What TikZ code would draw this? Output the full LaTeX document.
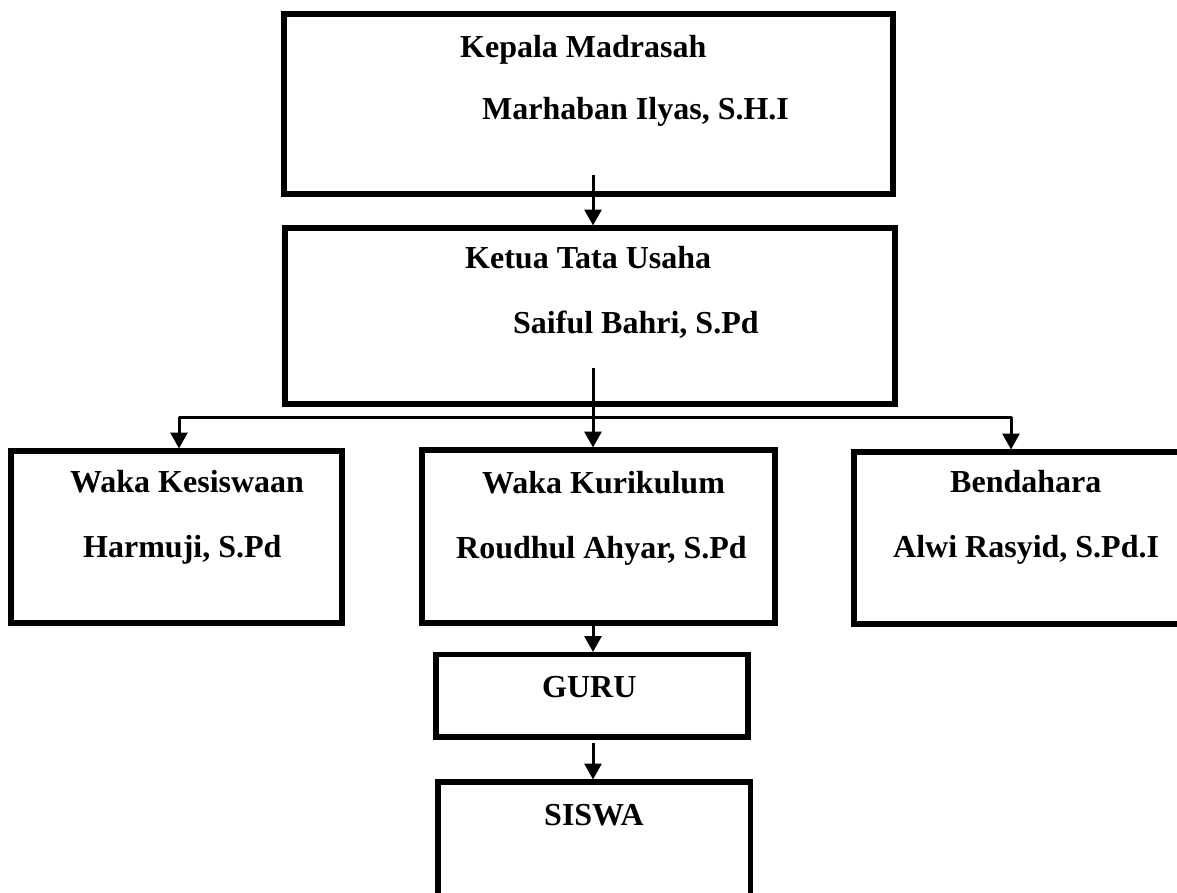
\documentclass[tikz,border=0pt]{standalone}
\usepackage{fontspec}
\setmainfont{Liberation Serif}
\usetikzlibrary{arrows.meta}
\begin{document}
\begin{tikzpicture}[x=1pt,y=1pt,
  box/.style={draw, line width=5.5pt, rectangle, inner sep=0pt, outer sep=0pt},
  lbl/.style={anchor=base west, inner sep=0pt, font=\fontsize{32}{38}\selectfont\bfseries},
  tip/.style={Triangle[width=17pt,length=16pt]},
  conn/.style={line width=3pt, -{Triangle[width=17pt,length=16pt]}, shorten >=2.5pt},
  branch/.style={line width=3pt, {Triangle[width=17pt,length=16pt]}-{Triangle[width=17pt,length=16pt]}, shorten <=2.5pt, shorten >=2.5pt, line join=round}]
\useasboundingbox (0,0) rectangle (1177,-892);
\fill[white] (0,0) rectangle (1177,-892);
\begin{scope}
\clip (0,0) rectangle (1177,-892);
% boxes
\node[box, minimum width=609pt, minimum height=180pt] (kep) at (588.5,-104) {};
\node[box, minimum width=610pt, minimum height=176pt] (ket) at (590,-316) {};
\node[box, minimum width=331pt, minimum height=172pt] (wkes) at (176.5,-537) {};
\node[box, minimum width=353pt, minimum height=173pt] (wkur) at (598.5,-536.5) {};
\node[box, minimum width=346pt, minimum height=172pt] (bend) at (1027,-538) {};
\node[box, minimum width=312pt, minimum height=82.5pt] (guru) at (592,-695.75) {};
\node[box, minimum width=312.5pt, minimum height=128pt] (siswa) at (594.25,-846) {};
% texts
\node[lbl] (t1) at (460,-57) {Kepala Madrasah};
\node[lbl] (t2) at (482,-119) {Marhaban Ilyas, S.H.I};
\node[lbl] (t3) at (465,-268) {Ketua Tata Usaha};
\node[lbl] (t4) at (513,-333) {Saiful Bahri, S.Pd};
\node[lbl] (t5) at (70,-492) {Waka Kesiswaan};
\node[lbl] (t6) at (83,-557) {Harmuji, S.Pd};
\node[lbl] (t7) at (482,-493) {Waka Kurikulum};
\node[lbl] (t8) at (456,-558) {Roudhul Ahyar, S.Pd};
\node[lbl] (t9) at (950,-492) {Bendahara};
\node[lbl] (t10) at (893,-557) {Alwi Rasyid, S.Pd.I};
\node[lbl] (t11) at (542,-697) {GURU};
\node[lbl] (t12) at (544,-825) {SISWA};
% connectors
\coordinate (a1) at (593,-175);
\draw[conn] (a1) -- (a1 |- ket.north);
\coordinate (a2) at (593,-368);
\draw[conn] (a2) -- (a2 |- wkur.north);
\coordinate (bl) at (179,-417);
\coordinate (br) at (1011,-417);
\draw[branch] (bl |- wkes.north) -- (bl) -- (br) -- (br |- bend.north);
\draw[conn] (a2 |- wkur.south) -- (a2 |- guru.north);
\coordinate (a4) at (593,-743);
\draw[conn] (a4) -- (a4 |- siswa.north);
\end{scope}
\end{tikzpicture}
\end{document}
